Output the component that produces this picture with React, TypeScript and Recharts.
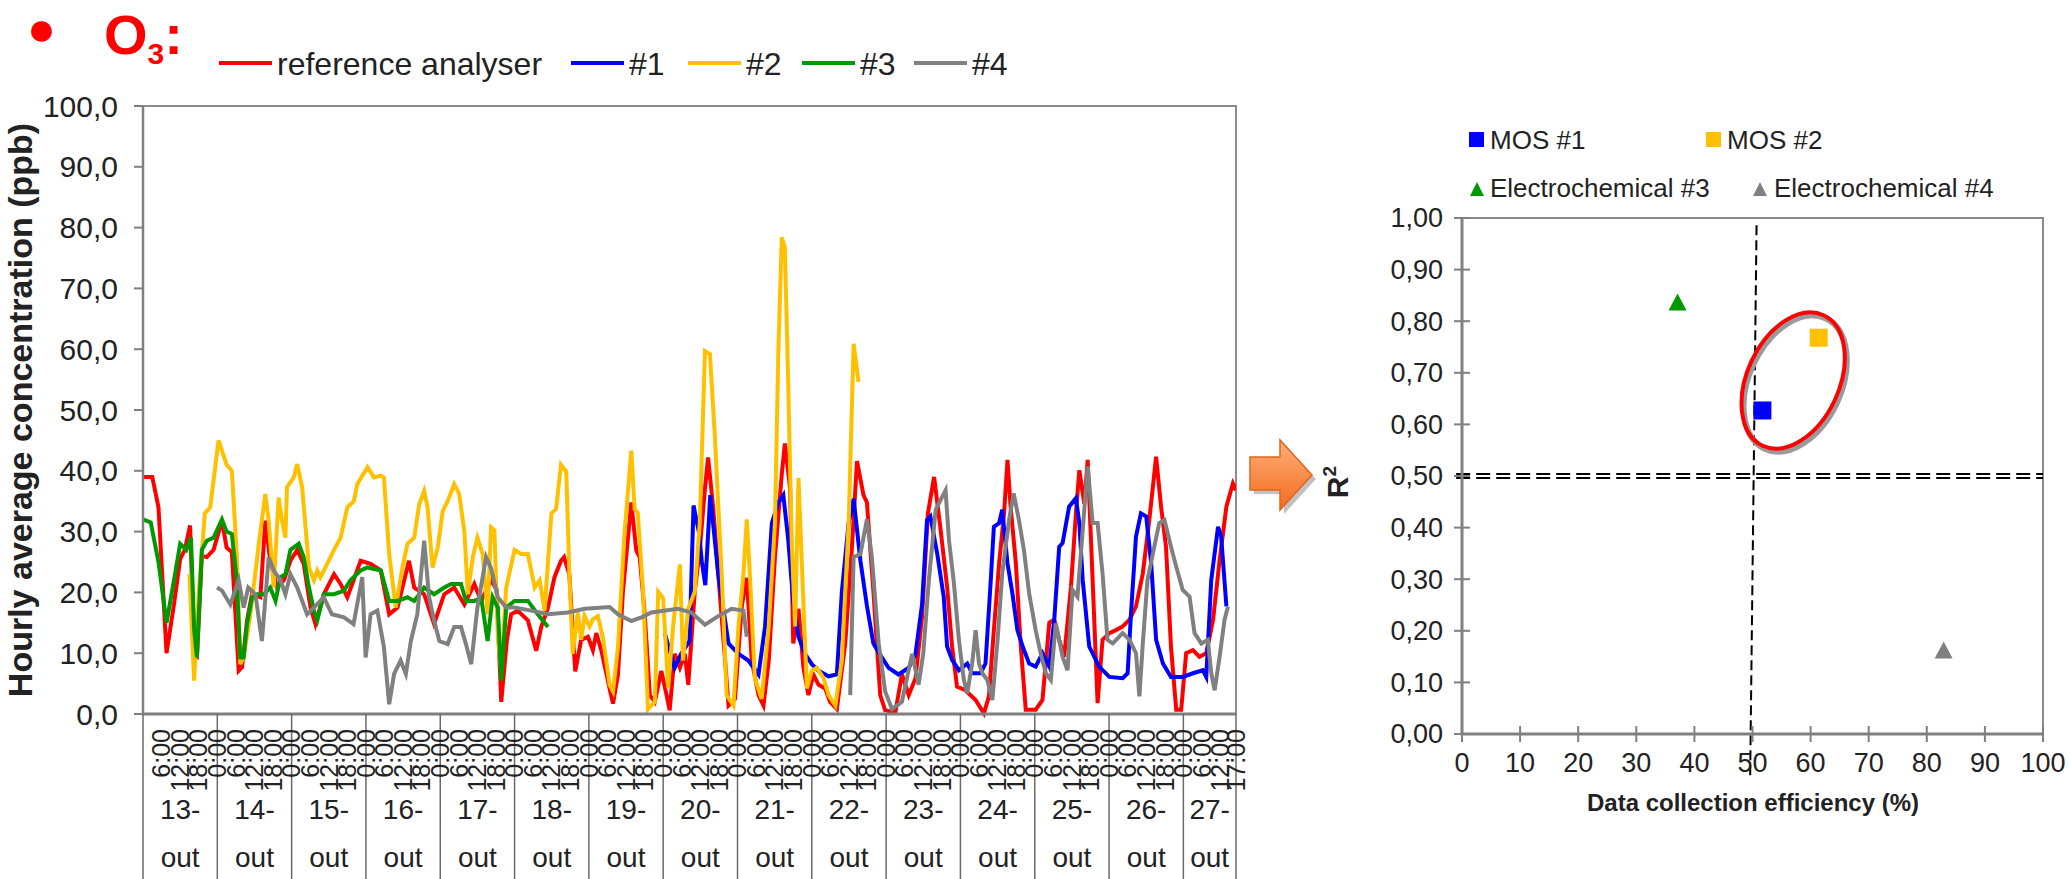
import React from 'react';
import {
  LineChart, Line, XAxis, YAxis, ReferenceArea,
  ScatterChart, Scatter, ReferenceLine, ReferenceDot,
} from 'recharts';

// time axis: hours counted from 13-out 0:00, last sample 27-out 17:00
const LAST_HOUR = 353;

// [hour, ppb]
const refAnalyser: [number, number][] = [
  [0, 39], [3, 39], [5, 34], [7.6, 10], [10, 18], [12, 25.5], [13.5, 27], [15.2, 31], [16.5, 12], [17.4, 9],
  [19, 26], [20.6, 25.8], [22.8, 27], [25.5, 31.8], [27, 27.4], [28.7, 26.6], [30.9, 7.1], [32, 7.7], [33.6, 15.4],
  [35.2, 19.7], [37.9, 19.2], [39.5, 31.8], [41.1, 25.2], [43.3, 20.8], [45.5, 22], [47.6, 25.2], [49.8, 27],
  [51.9, 24.7], [54.1, 17.5], [55.7, 14.8], [58.4, 19.7], [61.7, 23], [63.8, 21.4], [66, 19.2], [70.3, 25.2],
  [73.5, 24.7], [76.8, 23.6], [79.5, 16.4], [82.2, 17.5], [85.9, 25.2], [87.6, 20.8], [90.8, 19.7], [94, 14.8],
  [97.3, 19.7], [100.5, 20.8], [103.8, 18], [107, 21.4], [109.2, 18.6], [112.4, 22], [114.2, 20.5], [115.7, 2],
  [117.5, 12], [118.9, 16.4], [121, 17], [124.3, 15.4], [127, 10.4], [128.6, 14.3], [130.8, 17.5], [132.9, 22.5],
  [135, 25.2], [136, 25.8], [137.7, 22.9], [139.6, 7], [141.5, 12.2], [143.7, 12.7], [145.3, 10.5], [146.4, 13.3],
  [148, 10.5], [150.7, 4.2], [151.8, 1.7], [153.4, 6.5], [155, 20.1], [157.7, 34.8], [159.3, 26.9], [160.4, 25.8],
  [162, 16.7], [163.7, 3.1], [165.3, 2], [167.4, 7.1], [169.1, 3.1], [170.1, 0.6], [171.7, 9.9], [173.4, 7.6],
  [175, 9.9], [176.1, 4.8], [178.2, 20.1], [179.8, 26.9], [181.5, 37.1], [182.5, 42.2], [184.2, 33.7], [185.8, 22.9],
  [188, 8.8], [189.1, 1.4], [191.2, 2.5], [193.4, 17.8], [195, 22.4], [196.6, 8.8], [198.8, 3.1], [200.4, 1.4],
  [202.1, 8.8], [204.1, 25.8], [206.3, 39.4], [207.3, 44.5], [209, 37.1], [210, 11.6], [211.7, 17.3], [213.3, 7.6],
  [214.9, 3.1], [216.5, 6.5], [218.2, 4.8], [220.3, 4.2], [221.9, 2], [224.1, 0.8], [226.8, 11.6], [228.9, 26.9],
  [230.6, 41.6], [232.7, 36], [233.8, 34.8], [235.9, 20.1], [238.1, 3.1], [239.7, 0.6], [243, 0.3], [245.1, 6.5],
  [247.3, 3.1], [249.5, 5.9], [251.6, 16], [253.5, 33], [255.5, 39], [257.6, 30.3], [259.7, 20.9], [261.3, 11.1],
  [262.9, 4.5], [265.6, 3.9], [268.9, 2.3], [271.6, 0.1], [273.2, 2.9], [274.8, 13.8], [276.5, 24.8], [278.1, 33],
  [279.2, 41.8], [280.2, 34.1], [281.9, 24.8], [283.5, 11.1], [285.1, 0.7], [288.3, 0.7], [290.5, 2.3], [292.7, 15],
  [294.3, 15.5], [295.9, 12.2], [297.5, 9.4], [299.7, 20.9], [301.3, 33], [302.4, 40.1], [304, 34.6], [305.1, 41.8],
  [306.7, 22], [308.3, 1.8], [309.9, 12.2], [312.1, 13.3], [314.2, 13.8], [316.4, 14.4], [318.6, 15.5], [320.7, 17.7],
  [322.9, 23.1], [325, 31.9], [327.2, 42.3], [328.8, 34.1], [330.4, 27.5], [332, 11.1], [333.7, 0.7], [335.3, 0.7],
  [336.9, 10], [339.1, 10.5], [341.2, 9.4], [343.4, 10], [345.6, 15.5], [347.7, 25.3], [349.9, 34.1], [352, 37.9],
  [353, 36.8],
];

const sensor1: [number, number][] = [
  [168.5, 13.3], [171.7, 7.6], [173.8, 9.9], [176.5, 12], [177.8, 34.3], [179.5, 30], [180.5, 25], [181.6, 21.2],
  [183.2, 36], [185.8, 22.9], [189.1, 11.6], [192.3, 9.9], [195.5, 8.8], [198.8, 6.5], [200.9, 14.4], [203.1, 31.4],
  [205.2, 34.8], [206.8, 36], [208.4, 28.6], [210, 18.4], [211.7, 12.7], [213.8, 9.9], [216, 8.2], [218.2, 7.1],
  [221.4, 6.2], [224.1, 6.5], [225.7, 20.1], [227.9, 31.4], [229.5, 35.4], [231.7, 25.2], [233.8, 17.8], [235.9, 11.6],
  [238.6, 9.3], [240.8, 7.6], [244, 6.5], [247.3, 7.6], [249.5, 9.9], [251.6, 18], [253.2, 31.9], [254.3, 32.5],
  [256.5, 26.4], [258.6, 19.3], [259.7, 11.1], [261.3, 8.9], [263.5, 7.2], [266.2, 8.3], [267.8, 6.7], [270.5, 6.7],
  [272.1, 8.3], [273.8, 22], [274.8, 30.8], [276.5, 31.4], [277.5, 33.6], [279.2, 24.8], [280.8, 19.8], [282.4, 13.8],
  [284.1, 11.1], [286.2, 8.3], [288.3, 7.8], [290.5, 10], [292.7, 7.8], [294.3, 15.5], [295.9, 27.5], [297, 28.1],
  [299.1, 34.1], [301.3, 35.5], [302.4, 31.4], [303.5, 22], [305.6, 11.1], [308.8, 7.8], [312.1, 6.1], [316.4, 5.9],
  [318, 6.7], [319.1, 16.6], [320.7, 29.2], [322.3, 33], [324, 32.5], [325.6, 24.8], [327.2, 12.2], [329.4, 8.3],
  [332, 6.1], [335.8, 6.1], [339.1, 6.7], [342.3, 7.2], [343.4, 6.1], [345, 22], [347.2, 30.8], [348.2, 29.2],
  [349.9, 17.7],
];

const sensor2: [number, number][] = [
  [15, 23], [16.5, 5.5], [18, 20], [20, 33], [21.7, 34], [24.4, 45], [27, 41], [28.7, 40], [30.3, 26], [31.4, 8.2],
  [32.5, 9.3], [34.7, 16.4], [37.4, 28], [39.5, 36.2], [40.6, 31.8], [42.2, 20.8], [43.8, 35.6], [44.9, 31.8],
  [46, 29], [46.5, 37.3], [48.7, 38.9], [49.8, 41.1], [51.4, 37.3], [53.6, 24.1], [55.2, 22], [56.3, 23.6],
  [57.3, 22.5], [59.5, 24.7], [61.7, 27], [63.8, 29], [66, 34], [68.1, 35], [69.2, 37.8], [72.5, 40.6], [74.6, 38.9],
  [76.8, 39.2], [77.8, 38.9], [79.5, 26.3], [81.6, 17.5], [83.8, 24.1], [85.4, 28], [87.6, 29], [89.2, 34.5],
  [90.8, 36.7], [91.9, 34], [93.5, 24.1], [95.2, 27.4], [96.8, 33.4], [98.4, 35], [100.5, 37.8], [102.1, 36.2],
  [103.8, 30], [104.9, 19.7], [106.5, 25.8], [108, 29], [109.7, 26.3], [111.3, 16.4], [112.4, 30.7], [113.5, 30.2],
  [114.6, 12.6], [115.7, 7.1], [117.3, 20.8], [120, 27], [122.1, 26.3], [124.3, 26.3], [126.5, 20.8], [128.1, 22],
  [129.7, 17], [131.9, 33], [133.4, 33.7], [135, 41], [136.7, 39.9], [137.7, 22.9], [138.8, 9.9], [140.4, 16.7],
  [141.5, 12.2], [142.6, 16.1], [144.2, 14.4], [145.3, 15.6], [146.9, 16.1], [148.5, 12.7], [150.7, 4.8], [151.8, 3.7],
  [153.4, 11], [155.5, 29.7], [157.7, 43.3], [158.8, 33.7], [159.8, 33.1], [161.5, 20.1], [163.1, 0.8], [165.3, 2],
  [166.4, 20.1], [168, 19], [169.6, 4.2], [171.2, 14.4], [173.4, 24.6], [174.4, 8.8], [176.1, 17.3], [178.2, 20.1],
  [179.8, 31.4], [181.5, 59.7], [183.1, 59.2], [184.7, 45.6], [186.9, 22.9], [188.5, 3.1], [190.7, 1.4], [192.3, 14.4],
  [193.9, 22.9], [195, 32], [196, 22.9], [197.6, 5.9], [199.8, 2.5], [202.1, 14.4], [204.1, 31.4], [205.2, 59.7],
  [206.3, 78.4], [207.3, 76.7], [208.4, 54], [209.5, 28.6], [210.6, 14.4], [211.7, 38.8], [212.7, 25.8], [214.4, 4.2],
  [216, 7.1], [217.6, 7.6], [219.8, 5.9], [221.4, 3.1], [223.6, 1.4], [225.7, 8.8], [227.9, 31.4], [229.5, 60.9],
  [231.1, 54.6],
];

const sensor3: [number, number][] = [
  [0, 32], [2.5, 31.5], [5, 25], [7.6, 15], [10, 22], [12, 28], [14, 27], [15.5, 29], [16.5, 14], [17.4, 9.3],
  [19, 27], [20.6, 28.5], [22.8, 29], [25.5, 32], [27, 30], [28.7, 29.6], [30.3, 22], [31.4, 9.3], [32.5, 9.3],
  [33.6, 14.8], [35.2, 19.2], [36.8, 19.7], [39, 19.7], [41.1, 20.8], [42.8, 18.6], [44.4, 22.5], [46, 23],
  [47.6, 27], [50.3, 28], [51.9, 25.8], [53.6, 20.8], [55.2, 17], [56.3, 15.4], [58.4, 19.7], [61.7, 19.7],
  [64.9, 20.3], [67, 22], [70.3, 23.6], [72.5, 24.1], [76.8, 23.6], [79.5, 18.6], [82.2, 18.6], [85.4, 19.2],
  [87.6, 18.6], [90.8, 20.8], [94, 19.7], [97.3, 20.8], [99.5, 21.4], [102.7, 21.4], [104.3, 18.6], [107, 18.6],
  [109.2, 19.2], [111.3, 12], [112.9, 19.2], [114.6, 17.5], [115.7, 5.5], [117.3, 17.5], [120, 18.6], [124.3, 18.6],
  [127.5, 16.4], [130.8, 14.3],
];

const sensor4: [number, number | null][] = [
  [23.9, 20.8], [25.5, 20.3], [28.2, 18], [30.9, 22], [32.5, 17.5], [34, 20.8], [36.3, 19.7], [38.4, 12], [40.6, 25.8],
  [42.2, 23.6], [44.4, 22], [46, 19.7], [47.6, 23], [49.8, 20.8], [53, 16.4], [55.2, 17.5], [58.4, 19.2], [61, 16.4],
  [64.9, 15.9], [68, 14.8], [70.8, 22.5], [71.9, 9.3], [73.5, 16.4], [75.7, 17], [77.8, 11], [79.5, 1.6], [81.1, 6.6],
  [83.2, 8.8], [84.9, 6.6], [86.5, 12], [88.6, 16.4], [90.8, 28.5], [92.4, 19.2], [94, 15.4], [95.7, 12], [98.4, 11.5],
  [100.5, 14.3], [102.7, 14.3], [104.3, 11.5], [106, 8.2], [108, 17.5], [110.8, 25.8], [112.4, 24], [114.6, 19.2],
  [117.3, 17.5], [120, 17.5], [125.4, 17], [130.8, 16.4], [137.2, 16.7], [142.6, 17.3], [150.7, 17.6], [153.4, 16.4],
  [157.7, 15.3], [161, 15.9], [164.2, 16.7], [172.8, 17.3], [177.1, 16.7], [181.5, 14.7], [185.8, 16.1], [190.1, 17.3],
  [193.9, 17], [195, 12.7], [212, null], [228.4, 3.1], [229.5, 25.8], [231.7, 26.3], [233.8, 32], [235.4, 25.8],
  [237.6, 11.6], [239.7, 3.7], [241.9, 0.8], [245.1, 2], [248.4, 9.9], [250.5, 4.8], [252, 10], [253.8, 22], [256, 33.6],
  [259.2, 36.8], [260.3, 28.6], [261.9, 21.5], [263.5, 12.2], [265.1, 5.6], [266.2, 3.4], [267.8, 8.3], [268.9, 13.8],
  [270, 8.3], [271.1, 6.7], [272.7, 5.6], [274.3, 2.3], [276, 12.2], [277.5, 23.1], [279.7, 31.9], [281.2, 36.3],
  [282.9, 31.9], [284.5, 27], [286.2, 19.8], [288.3, 13.8], [289.9, 10], [291.6, 6.7], [293.2, 5.6], [294.8, 14.9],
  [297, 9.4], [298.6, 7.2], [300.2, 20.4], [301.8, 19.3], [303.5, 30.3], [305.1, 40.7], [306.7, 31.4], [308.3, 31.4],
  [309.9, 23.1], [311.5, 12.2], [313.2, 11.6], [316.4, 13.3], [318.6, 12.2], [320.7, 10], [321.8, 2.9], [322.9, 11.6],
  [324.4, 22], [326.6, 27.5], [328.2, 31.4], [329.9, 31.9], [332, 27.5], [333.7, 24.2], [335.8, 20.4], [338, 19.3],
  [339.6, 13.3], [341.8, 11.6], [343.9, 12.2], [345, 6.7], [346.1, 3.9], [347.7, 9.4], [349.3, 15.5], [350.4, 17.7],
];

const days = ['13', '14', '15', '16', '17', '18', '19', '20', '21', '22', '23', '24', '25', '26', '27'];
const concTicks = [0, 10, 20, 30, 40, 50, 60, 70, 80, 90, 100];

// right panel: data collection efficiency (%) vs R2
const scatterNames = ['MOS #1', 'MOS #2', 'Electrochemical #3', 'Electrochemical #4'];
const efficiency = [51.7, 61.4, 37.1, 82.9];
const r2 = [0.627, 0.768, 0.836, 0.162];
const effTicks = [0, 10, 20, 30, 40, 50, 60, 70, 80, 90, 100];
const r2Ticks = [0, 0.1, 0.2, 0.3, 0.4, 0.5, 0.6, 0.7, 0.8, 0.9, 1];

const RED = '#ff0000';
const BLUE = '#0000ff';
const GOLD = '#ffc000';
const GREEN = '#009a00';
const GREY = '#808080';
const AXIS = '#7f7f7f';
const INK = '#222';
const FONT = '"Liberation Sans", Arial, Helvetica, sans-serif';

const toPts = (arr: [number, number | null][]) => arr.map(([h, v]) => ({ h, v }));

const dayCenters = days.map((_, i) => (i < days.length - 1 ? i * 24 + 12 : (i * 24 + LAST_HOUR) / 2));
const xTicks: number[] = [];
for (let h = 0; h <= LAST_HOUR; h += 6) xTicks.push(h);
xTicks.push(LAST_HOUR, dayCenters[dayCenters.length - 1]);

const TimeTick = (props: any) => {
  const { x, y, payload } = props;
  const h: number = payload.value;
  const d = dayCenters.indexOf(h);
  const boundary = h % 24 === 0 || h === LAST_HOUR;
  const timeLabel = (h % 6 === 0 && h > 0) || h === LAST_HOUR;
  return (
    <g>
      {boundary && <line x1={x} x2={x} y1={y} y2={y + 170} stroke="#6a6a6a" strokeWidth={1.5} />}
      {timeLabel && (
        <text transform={`translate(${x},${y + 15}) rotate(-90)`} dy="0.35em" textAnchor="end"
          fontSize={25} fill={INK}>{`${h % 24}:00`}</text>
      )}
      {d >= 0 && (
        <g fontSize={28} fill={INK} textAnchor="middle">
          <text x={x} y={y + 105}>{days[d]}-</text>
          <text x={x} y={y + 153}>out</text>
        </g>
      )}
    </g>
  );
};

const EffTick = (props: any) => {
  const { x, y, payload } = props;
  return (
    <g>
      <line x1={x} x2={x} y1={y - 8} y2={y + 8} stroke={GREY} strokeWidth={2} />
      <text x={x} y={y + 38} textAnchor="middle" fontSize={27} fill={INK}>{payload.value}</text>
    </g>
  );
};

const R2Tick = (props: any) => {
  const { x, y, payload } = props;
  return (
    <g>
      <line x1={x + 11} x2={x + 27} y1={y} y2={y} stroke={GREY} strokeWidth={2} />
      <text x={x} y={y} dy="0.35em" textAnchor="end" fontSize={27} fill={INK}>
        {payload.value.toFixed(2).replace('.', ',')}
      </text>
    </g>
  );
};

const square = (color: string) => (p: any) => (
  <rect x={p.cx - 9} y={p.cy - 9} width={18} height={18} fill={color} />
);
const triangle = (color: string) => (p: any) => (
  <polygon points={`${p.cx},${p.cy - 9} ${p.cx + 9},${p.cy + 8} ${p.cx - 9},${p.cy + 8}`} fill={color} />
);
const shapes = [square(BLUE), square(GOLD), triangle(GREEN), triangle(GREY)];

const Highlight = (p: any) => (
  <g>
    <ellipse cx={p.cx + 2} cy={p.cy + 3} rx={72} ry={46} fill="none" stroke="#9a9a9a" strokeWidth={6}
      transform={`rotate(-65 ${p.cx + 2} ${p.cy + 3})`} />
    <ellipse cx={p.cx} cy={p.cy} rx={72} ry={46} fill="none" stroke={RED} strokeWidth={4}
      transform={`rotate(-65 ${p.cx} ${p.cy})`} />
  </g>
);

const leftLegend = [
  { name: 'reference analyser', color: RED, x: 219 },
  { name: '#1', color: BLUE, x: 571 },
  { name: '#2', color: GOLD, x: 688 },
  { name: '#3', color: GREEN, x: 802 },
  { name: '#4', color: GREY, x: 914 },
];

const App: React.FC = () => {
  return (
    <div style={{ position: 'absolute', left: 0, top: 0, width: 2071, height: 879, background: '#fff', fontFamily: FONT, overflow: 'hidden' }}>
      <div style={{ position: 'absolute', left: 0, top: 0 }}>
        <LineChart width={1262} height={879} margin={{ top: 106, right: 26, bottom: 0, left: 0 }}>
          <XAxis dataKey="h" type="number" domain={[0, LAST_HOUR]} ticks={xTicks} interval={0}
            allowDataOverflow height={165} tickSize={0} tickMargin={0}
            axisLine={{ stroke: AXIS, strokeWidth: 3 }} tick={(p: any) => <TimeTick {...p} />} />
          <YAxis type="number" domain={[0, 100]} ticks={concTicks} width={143} tickSize={9} tickMargin={16}
            axisLine={{ stroke: AXIS, strokeWidth: 2.5 }} tickLine={{ stroke: AXIS, strokeWidth: 2 }}
            tick={{ fontSize: 30, fill: INK }} tickFormatter={(v: number) => v.toFixed(1).replace('.', ',')} />
          <ReferenceArea x1={0} x2={LAST_HOUR} y1={0} y2={100} fill="none" fillOpacity={0}
            stroke="#8c8c8c" strokeWidth={2} />
          <Line data={toPts(refAnalyser)} dataKey="v" type="linear" stroke={RED} strokeWidth={4} dot={false} isAnimationActive={false} />
          <Line data={toPts(sensor1)} dataKey="v" type="linear" stroke={BLUE} strokeWidth={4} dot={false} isAnimationActive={false} />
          <Line data={toPts(sensor2)} dataKey="v" type="linear" stroke={GOLD} strokeWidth={4} dot={false} isAnimationActive={false} />
          <Line data={toPts(sensor3)} dataKey="v" type="linear" stroke={GREEN} strokeWidth={4} dot={false} isAnimationActive={false} />
          <Line data={toPts(sensor4)} dataKey="v" type="linear" stroke={GREY} strokeWidth={4} dot={false} isAnimationActive={false} />
        </LineChart>
      </div>

      <div style={{ position: 'absolute', left: 1300, top: 0 }}>
        <ScatterChart width={771} height={879} margin={{ top: 218, right: 28, bottom: 0, left: 0 }}>
          <XAxis dataKey="x" type="number" domain={[0, 100]} ticks={effTicks} interval={0} height={145}
            tickSize={0} tickMargin={0} axisLine={{ stroke: GREY, strokeWidth: 3 }} tick={(p: any) => <EffTick {...p} />} />
          <YAxis dataKey="y" type="number" domain={[0, 1]} ticks={r2Ticks} interval={0} width={162}
            tickSize={0} tickMargin={19} axisLine={{ stroke: GREY, strokeWidth: 3 }} tick={(p: any) => <R2Tick {...p} />} />
          <ReferenceArea x1={0} x2={100} y1={0} y2={1} fill="none" fillOpacity={0} stroke="#8c8c8c" strokeWidth={2} />
          <ReferenceLine segment={[{ x: -1, y: 0.5037 }, { x: 100, y: 0.5037 }]} ifOverflow="visible"
            stroke="#000" strokeWidth={2} strokeDasharray="14 6" />
          <ReferenceLine segment={[{ x: -1, y: 0.4963 }, { x: 100, y: 0.4963 }]} ifOverflow="visible"
            stroke="#000" strokeWidth={2} strokeDasharray="14 6" />
          <ReferenceLine segment={[{ x: 50.7, y: 0.986 }, { x: 49.6, y: -0.08 }]} ifOverflow="visible"
            stroke="#000" strokeWidth={2} strokeDasharray="10 5" />
          <ReferenceDot x={57} y={0.685} r={1} ifOverflow="visible" shape={(p: any) => <Highlight {...p} />} />
          {scatterNames.map((name, i) => (
            <Scatter key={name} name={name} data={[{ x: efficiency[i], y: r2[i] }]}
              shape={shapes[i]} isAnimationActive={false} />
          ))}
        </ScatterChart>
      </div>

      <svg width={2071} height={879} style={{ position: 'absolute', left: 0, top: 0, pointerEvents: 'none' }}
        fontFamily={FONT}>
        <defs>
          <linearGradient id="arrowFill" x1="0" y1="0" x2="0" y2="1">
            <stop offset="0" stopColor="#ffb07a" />
            <stop offset="1" stopColor="#f36a1e" />
          </linearGradient>
        </defs>
        {/* title */}
        <text x={27} y={45} fontSize={48} fill={RED}>●</text>
        <text x={104} y={54} fontSize={56} fontWeight="bold" fill={RED}>
          O<tspan fontSize={30} dy={10}>3</tspan><tspan fontSize={56} dy={-10}>:</tspan>
        </text>

        {/* left legend */}
        {leftLegend.map((it) => (
          <g key={it.name}>
            <line x1={it.x} x2={it.x + 53} y1={63} y2={63} stroke={it.color} strokeWidth={4} />
            <text x={it.x + 58} y={75} fontSize={32} fill={INK}>{it.name}</text>
          </g>
        ))}

        {/* left y title */}
        <text transform="translate(32,410) rotate(-90)" textAnchor="middle" fontSize={34} fontWeight="bold" fill={INK}>
          Hourly average concentration (ppb)
        </text>

        {/* arrow */}
        <path d="M1254,461 L1284,461 L1284,444 L1316,479 L1284,514 L1284,494 L1254,494 Z" fill="#a6a6a6" opacity={0.7} />
        <path d="M1250,457 L1280,457 L1280,440 L1312,475 L1280,510 L1280,490 L1250,490 Z"
          fill="url(#arrowFill)" stroke="#e0651c" strokeWidth={1.5} />

        {/* right legend */}
        <rect x={1469} y={132} width={15} height={15} fill={BLUE} />
        <text x={1490} y={149} fontSize={26} fill={INK}>{scatterNames[0]}</text>
        <rect x={1706} y={132} width={15} height={15} fill={GOLD} />
        <text x={1727} y={149} fontSize={26} fill={INK}>{scatterNames[1]}</text>
        <polygon points="1477,182 1484,196 1470,196" fill={GREEN} />
        <text x={1490} y={197} fontSize={26} fill={INK}>{scatterNames[2]}</text>
        <polygon points="1760,182 1767,196 1753,196" fill={GREY} />
        <text x={1774} y={197} fontSize={26} fill={INK}>{scatterNames[3]}</text>

        {/* right axis titles */}
        <text transform="translate(1348,482) rotate(-90)" textAnchor="middle" fontSize={30} fontWeight="bold" fill={INK}>
          R<tspan fontSize={19} dy={-12}>2</tspan>
        </text>
        <text x={1753} y={811} textAnchor="middle" fontSize={24} fontWeight="bold" fill={INK}>
          Data collection efficiency (%)
        </text>
      </svg>
    </div>
  );
};

export default App;
